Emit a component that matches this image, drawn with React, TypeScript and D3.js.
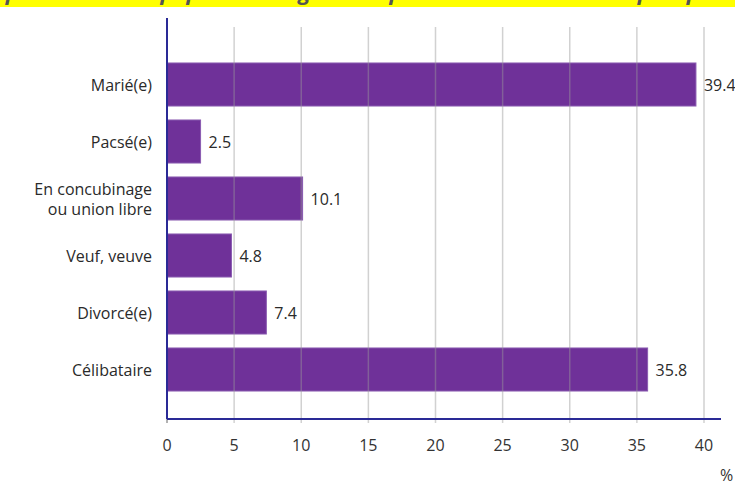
import React from "react";
import * as d3 from "d3";

const categories = ["Marié(e)", "Pacsé(e)", "En concubinage\nou union libre", "Veuf, veuve", "Divorcé(e)", "Célibataire"];
const values = [39.4, 2.5, 10.1, 4.8, 7.4, 35.8];
const xTicks = [0, 5, 10, 15, 20, 25, 30, 35, 40];
const title = "Répartition de la population légale des personnes de 15 ans ou plus par statut conjugal";

export default function App() {
  const W = 735, H = 482;
  const x = d3.scaleLinear().domain([0, 40]).range([167, 704]);
  const y = d3.scaleBand<string>().domain(categories).range([56, 398]).paddingInner(0.245).paddingOuter(0.1225);
  const font = "'Open Sans', 'Noto Sans', sans-serif";
  return (
    <svg width={W} height={H} style={{ position: "absolute", left: 0, top: 0, background: "#fff" }} fontFamily={font}>
      <rect x={0} y={0} width={W} height={7} fill="#ffff00" />
      <text x={-20} y={0} fontSize={22} fontWeight="bold" fontStyle="italic" fill="#555">{title}</text>
      {categories.map((c, i) => (
        <rect key={c} x={x(0)} y={y(c)!} width={x(values[i]) - x(0)} height={y.bandwidth()} fill="#6f3199" stroke="#8a5bb0" strokeWidth={1} />
      ))}
      {xTicks.slice(1).map((t) => (
        <line key={t} x1={x(t)} x2={x(t)} y1={27} y2={423} stroke="#999" strokeOpacity={0.45} strokeWidth={1.5} />
      ))}
      <line x1={x(0)} x2={x(0)} y1={423} y2={419} stroke="#999" strokeWidth={1.5} />
      <line x1={167} x2={167} y1={18} y2={419} stroke="#2a2a96" strokeWidth={2} />
      <line x1={167} x2={721} y1={419} y2={419} stroke="#2a2a96" strokeWidth={2} />
      {xTicks.map((t) => (
        <text key={t} x={x(t)} y={451} fontSize={16} textAnchor="middle" fill="#333">{t}</text>
      ))}
      <text x={720} y={481} fontSize={16} fill="#333">%</text>
      {categories.map((c, i) => {
        const lines = c.split("\n");
        const cy = y(c)! + y.bandwidth() / 2;
        return (
          <g key={c}>
            <text x={152} y={cy - (lines.length - 1) * 10} fontSize={16} textAnchor="end" fill="#2a2a2a" dominantBaseline="central">
              {lines.map((l, j) => (
                <tspan key={j} x={152} dy={j === 0 ? 0 : 20}>{l}</tspan>
              ))}
            </text>
            <text x={x(values[i]) + 8} y={cy} fontSize={16} fill="#2a2a2a" dominantBaseline="central">{values[i]}</text>
          </g>
        );
      })}
    </svg>
  );
}
